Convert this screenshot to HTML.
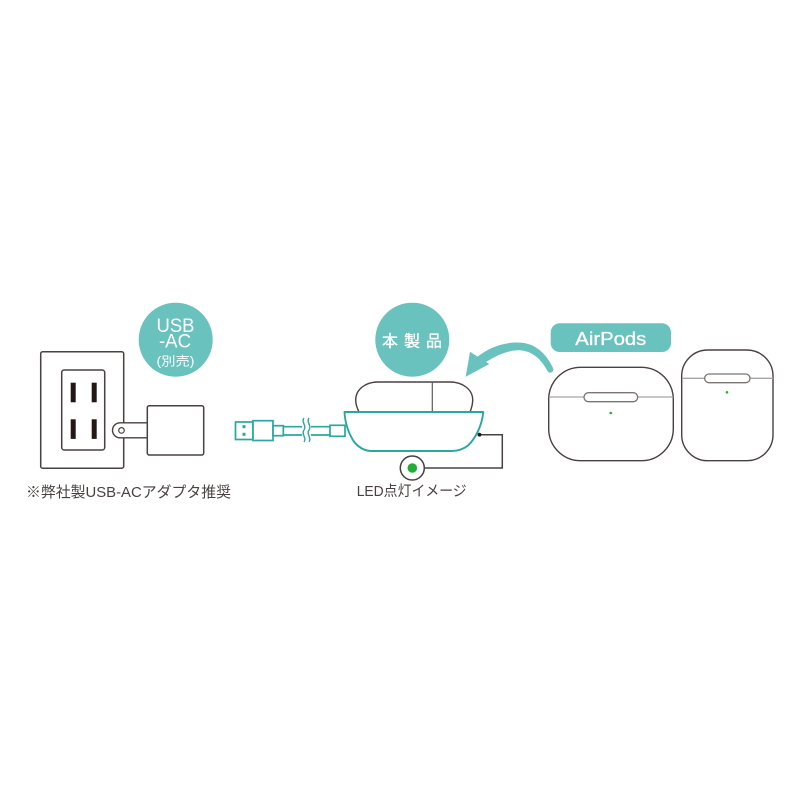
<!DOCTYPE html>
<html><head><meta charset="utf-8"><style>
html,body{margin:0;padding:0;background:#fff}
svg{display:block}
text{font-family:"Liberation Sans","Noto Sans CJK JP",sans-serif}
</style></head><body>
<svg width="800" height="800" viewBox="0 0 800 800" xmlns="http://www.w3.org/2000/svg">
<rect width="800" height="800" fill="#fff"/>
<!-- wall plate -->
<g fill="#fff" stroke="#4a4040">
<rect x="40.7" y="351.7" width="83" height="116.5" rx="2" stroke-width="1.5"/>
<rect x="61.7" y="370" width="43" height="80" rx="2.5" stroke-width="1.5"/>
</g>
<g fill="#231815">
<rect x="70.7" y="382.7" width="5" height="19.6"/><rect x="91.7" y="382.7" width="5" height="19.6"/>
<rect x="70.7" y="419.3" width="5" height="19.6"/><rect x="91.7" y="419.3" width="5" height="19.6"/>
</g>
<path d="M147 422.8H120a7.5 7.5 0 0 0 0 15H147" fill="#fff" stroke="#4a4040" stroke-width="1.4"/>
<circle cx="121.5" cy="430.4" r="2.8" fill="#fff" stroke="#4a4040" stroke-width="1.2"/>
<rect x="147.3" y="405.7" width="56.4" height="49.3" rx="2" fill="#fff" stroke="#4a4040" stroke-width="1.5"/>
<!-- USB bubble -->
<circle cx="175.7" cy="339.7" r="37" fill="#69c2bd"/>
<g fill="#fff" text-anchor="middle">
<text x="175.5" y="332" font-size="19" textLength="38" lengthAdjust="spacingAndGlyphs">USB</text>
<text x="175" y="347.500" font-size="19" textLength="32" lengthAdjust="spacingAndGlyphs">-AC</text>
<text x="175.5" y="365.500" font-size="12.5" textLength="38" lengthAdjust="spacingAndGlyphs">(別売)</text>
</g>
<text x="26" y="497" font-size="15" fill="#4a4040" textLength="205" lengthAdjust="spacingAndGlyphs">※弊社製USB-ACアダプタ推奨</text>
<!-- cable -->
<g fill="#fff" stroke="#2aa89d" stroke-width="1.700">
<rect x="235.500" y="422" width="17.500" height="17.500"/>
<rect x="253" y="420.700" width="20" height="19.800"/>
<rect x="273" y="425.700" width="10.300" height="10"/>
<path d="M283.500 426.700H302M283.500 435H302M311 426.700H330M311 435H330" fill="none"/>
<rect x="330" y="425.300" width="15" height="11"/>
<path d="M304 418c-3 4 3 8 0 12s3 8 0 12M309 418c-3 4 3 8 0 12s3 8 0 12" fill="none" stroke-width="1.400"/>
</g>
<rect x="242.500" y="425.200" width="3" height="3" fill="#2aa89d"/>
<rect x="242.500" y="432.800" width="3" height="3" fill="#2aa89d"/>
<!-- earbud case on top -->
<path d="M359 412C356.500 407 355.700 403 355.700 400C355.700 389 366 382 378 382H450C462 382 472.700 389 472.700 400C472.700 403 472 407 470 412" fill="#fff" stroke="#4a4040" stroke-width="1.400"/>
<path d="M432.300 382V412" stroke="#5f5a58" stroke-width="1.200" fill="none"/>
<!-- base -->
<path d="M344.500 412H483.300C482 425 476 438 468 445.500C463 449.500 458 451 451.700 451H372C364 451 358 447 353.500 441C348 432 345 422 344.500 412Z" fill="#fff" stroke="#2aa89d" stroke-width="1.900" stroke-linejoin="round"/>
<!-- LED line -->
<path d="M479 434.700H502.300V468H424" fill="none" stroke="#4a4040" stroke-width="1.500"/>
<circle cx="479.500" cy="434.700" r="1.900" fill="#231815"/>
<circle cx="412.300" cy="468" r="12" fill="#fff" stroke="#4a4040" stroke-width="1.500"/>
<circle cx="412.300" cy="468" r="4.800" fill="#22ac38"/>
<text x="356.700" y="496" font-size="14.500" fill="#4a4040" textLength="110" lengthAdjust="spacingAndGlyphs">LED点灯イメージ</text>
<!-- product bubble -->
<circle cx="412.300" cy="339.700" r="37" fill="#69c2bd"/>
<text x="382" y="346.500" font-size="16" fill="#fff" stroke="#fff" stroke-width="0.300" textLength="60" lengthAdjust="spacing">本製品</text>
<!-- arrow -->
<path d="M465.700 376.700L470 351.700L489.300 364Z" fill="#69c2bd"/>
<path d="M477 357C492 345 510 341 524 343C537 345 547 355 553 368A3 3 0 0 1 547.500 371C541 359 533 352 522 350.500C510 349 497 355 486 362Z" fill="#69c2bd"/>
<!-- AirPods label -->
<rect x="550.700" y="323.300" width="120.300" height="28.700" rx="9" fill="#69c2bd"/>
<text x="610.800" y="345" font-size="18.500" fill="#fff" stroke="#fff" stroke-width="0.300" text-anchor="middle" textLength="71" lengthAdjust="spacingAndGlyphs">AirPods</text>
<!-- case 1 -->
<rect x="548.700" y="367.300" width="124.600" height="93.400" rx="32" fill="#fff" stroke="#4a4040" stroke-width="1.400"/>
<path d="M549 397H673" stroke="#a9a5a3" stroke-width="1.300"/>
<rect x="584" y="392.700" width="53.700" height="9" rx="4.500" fill="#fff" stroke="#7a7573" stroke-width="1.300"/>
<circle cx="610.700" cy="413" r="1.300" fill="#22ac38"/>
<!-- case 2 -->
<rect x="681.700" y="350" width="91.300" height="110.700" rx="26" fill="#fff" stroke="#4a4040" stroke-width="1.400"/>
<path d="M682 378.300H773" stroke="#a9a5a3" stroke-width="1.300"/>
<rect x="704.700" y="374" width="45.300" height="8.700" rx="4.300" fill="#fff" stroke="#7a7573" stroke-width="1.300"/>
<circle cx="727" cy="392.300" r="1.300" fill="#22ac38"/>
</svg>
</body></html>
